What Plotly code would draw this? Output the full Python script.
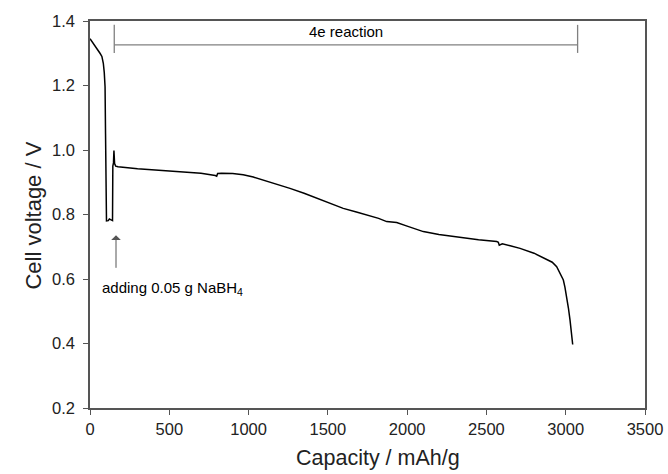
import plotly.graph_objects as go

capacity = [0, 6, 20, 32, 50, 63, 75, 84, 90, 95, 98, 100, 104, 115, 122, 130, 138, 142, 144, 148, 151, 155, 162, 177,
            300, 450, 600, 700, 790, 799, 805, 830, 900, 966, 1030, 1092, 1180, 1261, 1350, 1430, 1520, 1597,
            1680, 1766, 1820, 1871, 1934, 2000, 2102, 2200, 2333, 2450, 2565, 2575, 2581, 2600, 2650, 2712,
            2800, 2880, 2890, 2915, 2943, 2964, 2985, 2995, 3006, 3017, 3027, 3036, 3044]
voltage = [1.345, 1.341, 1.330, 1.320, 1.308, 1.300, 1.290, 1.269, 1.240, 1.196, 1.05, 0.80, 0.780, 0.781, 0.786, 0.784, 0.780, 0.781, 0.95, 0.96, 0.998, 0.958, 0.950, 0.948,
           0.942, 0.937, 0.932, 0.928, 0.921, 0.919, 0.927, 0.928, 0.927, 0.923, 0.916, 0.907, 0.895, 0.881, 0.866, 0.850, 0.834, 0.819,
           0.808, 0.797, 0.788, 0.778, 0.775, 0.764, 0.747, 0.738, 0.729, 0.722, 0.716, 0.714, 0.705, 0.709, 0.703, 0.695,
           0.680, 0.662, 0.659, 0.652, 0.638, 0.618, 0.597, 0.575, 0.545, 0.510, 0.473, 0.435, 0.397]

x_ticks = [0, 500, 1000, 1500, 2000, 2500, 3000, 3500]
y_ticks = [0.2, 0.4, 0.6, 0.8, 1.0, 1.2, 1.4]

bracket_x = [153, 3075]
bracket_y = 1.326
bracket_tick = [1.301, 1.388]
bracket_label = "4e reaction"
arrow_x = 164
arrow_tip = 0.736
arrow_tail = 0.630
note_text = "adding 0.05 g NaBH<sub>4</sub>"
x_title = "Capacity / mAh/g"
y_title = "Cell voltage / V"

FONT = "Liberation Sans, Arial"
gray = "#808080"
fig = go.Figure()
fig.add_trace(go.Scatter(x=capacity, y=voltage, mode="lines",
                         line=dict(color="black", width=1.5), showlegend=False, hoverinfo="skip"))
# bracket
fig.add_trace(go.Scatter(x=[bracket_x[0], bracket_x[1]], y=[bracket_y, bracket_y], mode="lines",
                         line=dict(color=gray, width=1.3), showlegend=False, hoverinfo="skip"))
for bx in bracket_x:
    fig.add_trace(go.Scatter(x=[bx, bx], y=bracket_tick, mode="lines",
                             line=dict(color=gray, width=1.3), showlegend=False, hoverinfo="skip"))

fig.add_annotation(x=(bracket_x[0] + bracket_x[1]) / 2, y=bracket_y, yshift=13, text=bracket_label,
                   showarrow=False, font=dict(family=FONT, size=15, color="black"))
fig.add_annotation(x=arrow_x, y=arrow_tip, ax=arrow_x, ay=arrow_tail, xref="x", yref="y",
                   axref="x", ayref="y", text="", showarrow=True, arrowhead=1, arrowsize=1.6,
                   arrowwidth=1, arrowcolor="#555555")
fig.add_annotation(x=62, y=0.572, text=note_text, showarrow=False, xanchor="left",
                   font=dict(family=FONT, size=15, color="black"))

# axis titles placed as annotations for precise positioning
fig.add_annotation(text=x_title, xref="paper", yref="paper", x=0.519, y=-0.129,
                   xanchor="center", yanchor="middle", showarrow=False,
                   font=dict(family=FONT, size=21.5, color="#222222"))
fig.add_annotation(text=y_title, xref="paper", yref="paper", x=-0.101, y=0.497, textangle=-90,
                   xanchor="center", yanchor="middle", showarrow=False,
                   font=dict(family=FONT, size=22, color="#222222"))

axis_common = dict(showline=True, linecolor="#555555", linewidth=1.5, mirror=True, automargin=False,
                   ticks="outside", ticklen=5, tickcolor="#555555", showgrid=False, zeroline=False,
                   tickfont=dict(family=FONT, size=16.5, color="#222222"))
fig.update_xaxes(range=[0, 3500], tickvals=x_ticks, ticktext=[str(v) for v in x_ticks], **axis_common)
fig.update_yaxes(range=[0.2, 1.4], tickvals=y_ticks, ticktext=[f"{v:.1f}" for v in y_ticks],
                 ticklabelstandoff=5, **axis_common)
fig.update_layout(width=668, height=474, margin=dict(l=90, r=23, t=21, b=66),
                  plot_bgcolor="white", paper_bgcolor="white")
fig.write_html("out.html", config={"displayModeBar": False},
               post_script="document.body.style.margin='0';")
